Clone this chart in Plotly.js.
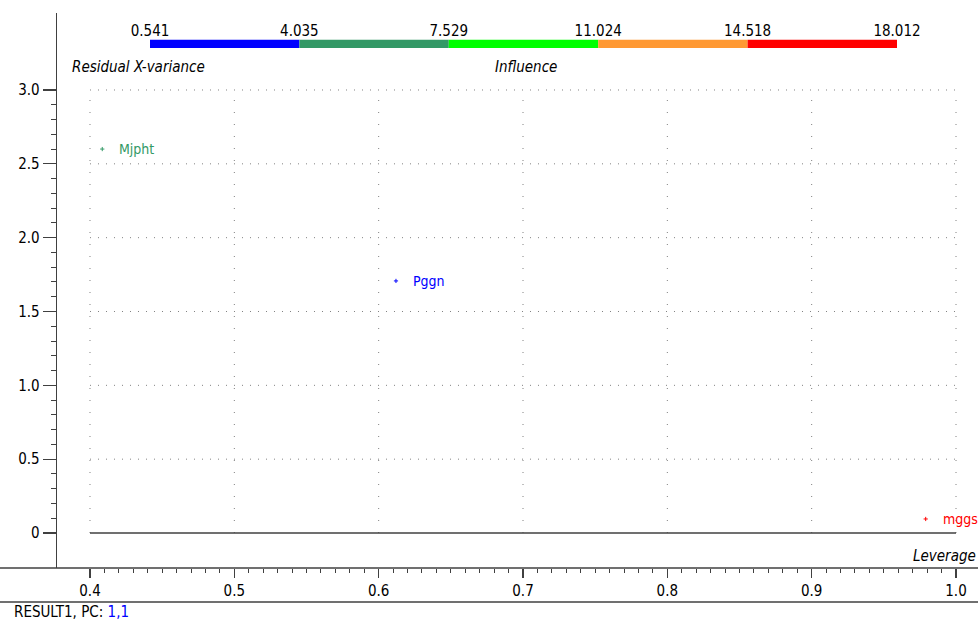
<!DOCTYPE html>
<html>
<head>
<meta charset="utf-8">
<script src="https://cdn.plot.ly/plotly-3.0.1.min.js"></script>
<style>html,body{margin:0;padding:0;background:#fff;}#chart{width:978px;height:623px;}</style>
</head>
<body>
<div id="chart"></div>
<script>
// ---- data ----
var sampleNames = ['Mjpht', 'Pggn', 'mggs'];
var leverage = [0.4085, 0.612, 0.979];
var residualXVariance = [2.60, 1.707, 0.095];
var sampleColors = ['#339966', '#0000ff', '#ff0000'];

var influenceBreaks = [0.541, 4.035, 7.529, 11.024, 14.518, 18.012];
var influenceLabels = ['0.541', '4.035', '7.529', '11.024', '14.518', '18.012'];
var influenceColors = ['#0000ff', '#339966', '#00ff00', '#ff9933', '#ff0000'];

var yTickVals = [0, 0.5, 1.0, 1.5, 2.0, 2.5, 3.0];
var yTickText = ['0', '0.5', '1.0', '1.5', '2.0', '2.5', '3.0'];
var xTickVals = [0.4, 0.5, 0.6, 0.7, 0.8, 0.9, 1.0];
var xTickText = ['0.4', '0.5', '0.6', '0.7', '0.8', '0.9', '1.0'];

// ---- layout helpers ----
var FONT = '"Liberation Sans Narrow", "DejaVu Sans Condensed", "Arial Narrow", sans-serif';
var W = 978, H = 623, ML = 57, MR = 0, MT = 13, MB = 55;
var PW = W - ML - MR, PH = H - MT - MB;
function px(x) { return (x - ML) / PW; }
function py(y) { return (H - MB - y) / PH; }

var xMinor = [], yMinor = [];
for (var i = 0; i <= 60; i++) xMinor.push(+(0.4 + i * 0.01).toFixed(3));
for (var j = 0; j <= 30; j++) yMinor.push(+(j * 0.1).toFixed(2));

var traces = [];
traces.push({
  type: 'scatter', mode: 'markers',
  x: leverage, y: residualXVariance,
  marker: {symbol: 'cross-thin', size: 3, color: sampleColors, line: {color: sampleColors, width: 1}},
  hoverinfo: 'skip', showlegend: false
});
// influence color bar
for (var k = 0; k < influenceColors.length; k++) {
  traces.push({
    type: 'bar', orientation: 'h',
    x: [influenceBreaks[k + 1] - influenceBreaks[k]], base: [influenceBreaks[k]], y: [0],
    width: 1, marker: {color: influenceColors[k], line: {width: 0}},
    xaxis: 'x2', yaxis: 'y2', showlegend: false, hoverinfo: 'skip'
  });
}

var shapes = [];
// dotted grid over data region
for (var a = 0; a < xTickVals.length; a++) {
  shapes.push({type: 'line', xref: 'x', yref: 'y', x0: xTickVals[a], x1: xTickVals[a], y0: 0, y1: 3.0,
    line: {color: '#808080', width: 1, dash: '1px,11px'}, layer: 'below'});
}
for (var b = 1; b < yTickVals.length; b++) {
  shapes.push({type: 'line', xref: 'x', yref: 'y', x0: 0.4, x1: 1.0, y0: yTickVals[b], y1: yTickVals[b],
    line: {color: '#808080', width: 1, dash: '1px,7px'}, layer: 'below'});
}
// zero line
shapes.push({type: 'line', xref: 'x', yref: 'y', x0: 0.4, x1: 1.0, y0: 0, y1: 0, line: {color: '#404040', width: 1.3}});
// x-axis baseline full width
shapes.push({type: 'line', xref: 'paper', yref: 'paper', x0: px(0), x1: 1, y0: 0, y1: 0, line: {color: '#404040', width: 1.3}});
// lower separator line
shapes.push({type: 'line', xref: 'paper', yref: 'paper', x0: px(0), x1: 1, y0: py(602), y1: py(602), line: {color: '#404040', width: 1.3}});

var annotations = [];
for (var s = 0; s < sampleNames.length; s++) {
  annotations.push({x: leverage[s], y: residualXVariance[s], xref: 'x', yref: 'y', text: sampleNames[s],
    showarrow: false, xanchor: 'left', yanchor: 'middle', xshift: 15,
    font: {family: FONT, size: 14, color: sampleColors[s]}});
}
annotations.push({x: px(70), y: py(67), xref: 'paper', yref: 'paper', text: '<i>Residual X-variance</i>',
  showarrow: false, xanchor: 'left', yanchor: 'middle', font: {family: FONT, size: 15, color: '#000'}});
annotations.push({x: px(493), y: py(67), xref: 'paper', yref: 'paper', text: '<i>Influence</i>',
  showarrow: false, xanchor: 'left', yanchor: 'middle', font: {family: FONT, size: 15, color: '#000'}});
annotations.push({x: 1, y: py(556), xref: 'paper', yref: 'paper', text: '<i>Leverage</i>',
  showarrow: false, xanchor: 'right', yanchor: 'middle', font: {family: FONT, size: 15, color: '#000'}});
annotations.push({x: px(12), y: py(612), xref: 'paper', yref: 'paper',
  text: 'RESULT1, PC: <span style="color:#0000ff">1,1</span>',
  showarrow: false, xanchor: 'left', yanchor: 'middle', font: {family: FONT, size: 15, color: '#000'}});

var layout = {
  width: W, height: H,
  margin: {l: ML, r: MR, t: MT, b: MB, pad: 0},
  paper_bgcolor: '#fff', plot_bgcolor: '#fff',
  showlegend: false,
  xaxis: {
    domain: [0, 1], range: [0.37714, 1.01524], anchor: 'y',
    showgrid: false, zeroline: false, showline: false,
    tickmode: 'array', tickvals: xTickVals, ticktext: xTickText,
    ticks: 'outside', ticklen: 9, tickwidth: 1.3, tickcolor: '#404040',
    minor: {tickmode: 'array', tickvals: xMinor, ticks: 'outside', ticklen: 4, tickwidth: 1, tickcolor: '#404040', showgrid: false},
    tickfont: {family: FONT, size: 15, color: '#000'}
  },
  yaxis: {
    domain: [0, 1], range: [-0.237, 3.5214], anchor: 'x',
    showgrid: false, zeroline: false, showline: true, linecolor: '#404040', linewidth: 1.3,
    tickmode: 'array', tickvals: yTickVals, ticktext: yTickText,
    ticks: 'outside', ticklen: 13, tickwidth: 1.3, tickcolor: '#404040',
    minor: {tickmode: 'array', tickvals: yMinor, ticks: 'outside', ticklen: 5, tickwidth: 1, tickcolor: '#404040', showgrid: false},
    tickfont: {family: FONT, size: 15, color: '#000'}
  },
  xaxis2: {
    domain: [px(150), px(897)], range: [influenceBreaks[0], influenceBreaks[influenceBreaks.length - 1]],
    anchor: 'y2', side: 'top', showgrid: false, zeroline: false, showline: false,
    tickmode: 'array', tickvals: influenceBreaks, ticktext: influenceLabels, ticks: '',
    tickfont: {family: FONT, size: 15, color: '#000'}
  },
  yaxis2: {
    domain: [py(48), py(39.5)], range: [-0.5, 0.5], anchor: 'x2',
    visible: false, showgrid: false, zeroline: false, fixedrange: true
  },
  barmode: 'overlay',
  shapes: shapes,
  annotations: annotations
};

Plotly.newPlot('chart', traces, layout, {displayModeBar: false, staticPlot: true});
</script>
</body>
</html>
